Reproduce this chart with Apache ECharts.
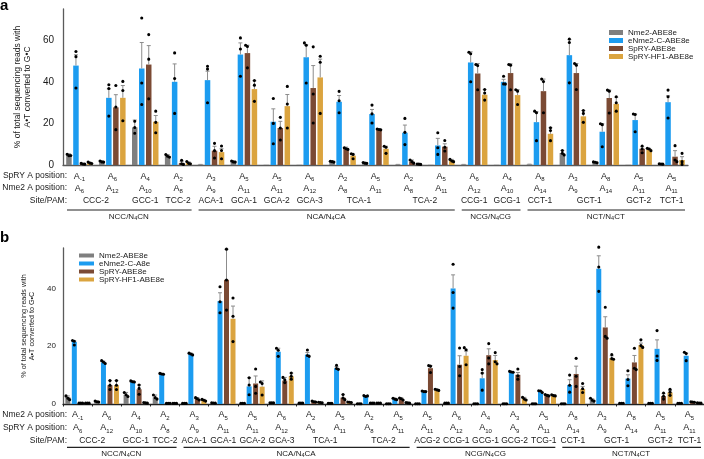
<!DOCTYPE html>
<html><head><meta charset="utf-8">
<script src="https://cdn.jsdelivr.net/npm/echarts@6/dist/echarts.min.js"></script>
<style>html,body{margin:0;padding:0;background:#fff}#c{width:704px;height:459px}</style>
</head><body><div id="c"></div>
<script>
// ---------------- DATA ----------------
const namesA = ['Nme2-ABE8e','eNme2-C-ABE8e','SpRY-ABE8e','SpRY-HF1-ABE8e'];
const namesB = ['Nme2-ABE8e','eNme2-C-A8e','SpRY-ABE8e','SpRY-HF1-ABE8e'];

// Panel a
const aRow1 = ['-1','6','4','2','3','5','5','6','2','5','2','5','6','4','8','3','8','5','5'];
const aRow2 = ['6','12','10','8','9','11','11','12','8','11','8','11','12','10','14','9','14','11','11'];
const aSite = ['CCC-2','CCC-2','GCC-1','TCC-2','ACA-1','GCA-1','GCA-2','GCA-3','TCA-1','TCA-1','TCA-2','TCA-2','CCG-1','GCG-1','CCT-1','GCT-1','GCT-1','GCT-2','TCT-1'];
const aPam = ['NCC/N4CN','NCC/N4CN','NCC/N4CN','NCC/N4CN','NCA/N4CA','NCA/N4CA','NCA/N4CA','NCA/N4CA','NCA/N4CA','NCA/N4CA','NCA/N4CA','NCA/N4CA','NCG/N4CG','NCG/N4CG','NCT/N4CT','NCT/N4CT','NCT/N4CT','NCT/N4CT','NCT/N4CT'];
const aRowTitles = ['SpRY A position:','Nme2 A position:','Site/PAM:'];
const aYTicks = [0,20,40,60];

const aNme2 = [4.8,1.6,18.1,4.3,0.2,1.6,0.1,0.1,1.6,1.0,0.2,0.1,0.2,0.1,0.3,5.8,1.3,0.1,0.5];
const aNme2Err = [5.4,1.9,21.6,5.0,0.3,1.9,0.1,0.1,1.9,1.2,0.3,0.1,0.3,0.1,0.4,7.0,1.5,0.1,0.6];
const aNme2Dots = [[5.2,4.5,4.6],[1.9,1.5,1.4],[21,18,15.3],[5,4.2,3.8],null,[1.9,1.5,1.4],null,null,[1.8,1.6,1.4],[1.2,0.9,0.8],null,null,null,null,null,[7,5.6,4.8],[1.5,1.3,1.1],null,[0.6,0.5,0.4]];

const aBlue = [47.8,32.3,46.4,40,40.8,53.1,20.8,51.8,30.4,24.5,15.5,9.4,49.3,40,20.6,52.8,16,21.6,30.2];
const aBlueErr = [53,36.6,58.9,48.6,45.1,58.7,27,57.8,33.4,26.7,19.2,12.8,54.4,41.2,25.6,60.3,19.8,24.5,33.3];
const aBlueDots = [[54.6,52.1,37],[38.6,36.8,23.5],[70.7,39.4,29.1],[53.9,41.6,24.8],[47.5,46.1,29.9],[61.1,55.8,42.7],[32,20,10.2],[58.7,57.6,39.4],[35.4,30.9,25.1],[28.8,24.6,20.2],[22.4,15.7,9.8],[15.5,8.3,5.1],[54.2,53.5,40],[42.7,39,38.9],[25.9,25.1,11.7],[60.6,58.9,39.5],[19.8,19.4,8.8],[24.5,24.3,16],[36,32.8,22.6]];

const aBrown = [0.6,27.7,48.3,1.0,6.9,53.8,17.8,37,8,17.1,1.6,8.8,44,44.2,35.5,44.2,32.2,7.8,4];
const aBrownErr = [0.8,33.8,57.4,1.8,9,57.6,21,47.8,8.6,17.4,2.4,10.2,48.8,48.6,41.3,48.8,36,8.8,6.9];
const aBrownDots = [[0.8,0.5,0.4],[38.2,27.9,17],[62.7,50.9,31.8],[2.3,0.6,0.3],[10.4,6.9,3.4],[57.6,57,46.7],[22.9,17.8,12],[56.8,34.1,20.2],[8.3,7.8,7.5],[17.3,17.1,16.9],[2.4,1.6,0.9],[11.8,8.5,6.7],[48.3,47.8,36.2],[48.3,48,36.2],[41.3,40.1,25.1],[48.8,48,36.3],[36,35.5,25],[9.1,7.7,5.9],[9.3,2.4,1.6]];

const aGold = [1.0,32.3,20.8,1.0,6.2,36.5,28.3,42.1,4.5,7.8,0.4,2.1,33.8,33.6,15,23.4,29.4,7.5,2.4];
const aGoldErr = [1.3,38.2,23.8,1.5,7.8,40.5,33.9,50.9,5.2,9,0.5,2.7,36.3,36.2,17.9,26.2,32.6,8,4];
const aGoldDots = [[1.4,0.9,0.7],[40.2,35.8,21.3],[25.9,20.5,15.5],[1.7,0.8,0.6],[9.1,7,3],[40.6,38.4,30.6],[37.8,29.3,17.8],[52.3,49.4,24.8],[5.4,5.1,3],[9,8.5,5.6],[0.5,0.4,0.3],[2.7,1.9,1.6],[36.3,34.6,31.2],[36.2,35.5,29.1],[17.9,16.6,11.7],[26.2,24.8,20.5],[32.8,29.9,25.9],[8,7.7,6.9],[5.6,1.6,0.3]];

// Panel b
const bRow1 = ['-1','6','4','2','3','5','5','6','2','5','2','5','5','6','4','3','5','8','3','8','5','5'];
const bRow2 = ['6','12','10','8','9','11','11','12','8','11','8','11','11','12','10','9','11','14','9','14','11','11'];
const bSite = ['CCC-2','CCC-2','GCC-1','TCC-2','ACA-1','GCA-1','GCA-2','GCA-3','TCA-1','TCA-1','TCA-2','TCA-2','ACG-2','CCG-1','GCG-1','GCG-2','TCG-1','CCT-1','GCT-1','GCT-1','GCT-2','TCT-1'];
const bPam = ['NCC/N4CN','NCC/N4CN','NCC/N4CN','NCC/N4CN','NCA/N4CA','NCA/N4CA','NCA/N4CA','NCA/N4CA','NCA/N4CA','NCA/N4CA','NCA/N4CA','NCA/N4CA','NCG/N4CG','NCG/N4CG','NCG/N4CG','NCG/N4CG','NCG/N4CG','NCT/N4CT','NCT/N4CT','NCT/N4CT','NCT/N4CT','NCT/N4CT'];
const bRowTitles = ['Nme2 A position:','SpRY A position:','Site/PAM:'];
const bYTicks = [0,20,40];

const bNme2 = [2.4,0.8,3.2,2.3,0.2,0.35,0.2,0.4,0.3,0.2,0.1,0.1,0.1,0.3,0.1,0.1,0.1,0.1,1.4,0.2,0.2,0.2];
const bNme2Err = [2.8,1.0,4.0,3.1,0.25,0.4,0.25,0.5,0.35,0.25,0.15,0.15,0.15,0.35,0.15,0.15,0.15,0.15,1.8,0.25,0.25,0.25];
const bNme2Dots = [[2.8,2,1.5],[1,0.8,0.7],[4,3.2,2.6],[3.1,2.2,1.7],[0.2,0.2,0.2],[0.4,0.35,0.3],[0.2,0.2,0.2],[0.4,0.4,0.4],[0.3,0.3,0.3],[0.2,0.2,0.2],[0.1,0.1,0.1],[0.1,0.1,0.1],[0.1,0.1,0.1],[0.3,0.3,0.3],[0.1,0.1,0.1],[0.1,0.1,0.1],[0.1,0.1,0.1],[0.1,0.1,0.1],[2,1.3,1],[0.2,0.2,0.2],[0.2,0.2,0.2],[0.2,0.2,0.2]];

const bBlue = [21.5,14.4,7.8,10.4,17.3,35.6,6.1,18.1,17.1,12.4,2.7,1.7,4.4,40,8.9,11.1,4.3,6.6,46.8,8.8,19.1,16.7];
const bBlueErr = [21.8,14.8,8.1,10.6,17.6,38.5,9.1,19.3,17.8,12.9,2.9,2.0,4.5,44.7,10.7,11.3,4.6,8.4,51.3,10.1,22.2,17.6];
const bBlueDots = [[22,21.7,20.4],[15,14.5,14],[8,7.7,7.6],[10.6,10.4,10.3],[17.6,17.3,17],[40.6,35.4,31.6],[9.1,6.6,3.2],[19.3,18.6,16.5],[18.7,16.8,16.5],[13.4,12.3,12],[2.9,2.6,2.8],[2,1.7,1.5],[4.5,4.3,4.3],[48.4,38.6,33.2],[11.9,10.7,4.8],[11.3,11.1,11],[4.6,4.5,4],[10,6.5,4.1],[54.3,47.4,39],[11.5,8.5,6.3],[25.4,16.6,15.1],[17.9,17.5,15]];

const bBrown = [0.3,6.5,5.1,0.2,1.8,43,7.1,8.1,0.8,2.2,0.3,1.8,12.4,13.6,16.9,10.1,3,10.4,26.5,14.4,2.7,0.7];
const bBrownErr = [0.35,8.1,6.6,0.25,2.2,53.6,9.7,9.2,1.0,3.3,0.35,2.1,13.3,16.7,19.1,10.9,3.3,13.1,30.2,16.8,3.6,0.8];
const bBrownDots = [[0.3,0.3,0.3],[8.1,6.5,5],[6.6,5.4,3.4],[0.2,0.2,0.2],[2.2,1.8,1.4],[53.6,42.9,32.5],[12.1,6.1,3.7],[9.2,8.4,7.4],[1,0.8,0.7],[3.3,2.1,1.5],[0.3,0.3,0.3],[2.1,1.8,1.4],[13.3,13.1,10.9],[19.4,13,9.8],[20.9,15.9,13.9],[12.1,9.8,8.6],[3.3,3,2.8],[15.8,9.6,6.1],[33.5,23.4,22.8],[19.3,12.4,11.9],[3.8,2.7,1.7],[0.8,0.7,0.6]];

const bGold = [0.3,6.5,0.4,0.2,1.3,29.5,6,9.6,0.5,0.6,0.3,0.4,5,16.7,15.2,1.8,3,5.2,15.9,20.4,4,0.35];
const bGoldErr = [0.35,8.1,0.5,0.25,1.6,33.9,8,10.7,0.6,0.7,0.35,0.5,5.1,18.3,16.8,2.3,3.2,6.1,16.7,21.1,4.7,0.4];
const bGoldDots = [[0.3,0.3,0.3],[8.1,6.5,5],[0.5,0.4,0.3],[0.2,0.2,0.2],[1.6,1.3,1],[36.7,30.4,21.6],[7.6,7.1,3.1],[10.7,9.6,8.6],[0.6,0.5,0.4],[0.7,0.6,0.5],[0.3,0.3,0.3],[0.5,0.4,0.3],[5.1,4.9,4.7],[19.5,18.8,13.6],[17.8,14.6,13.9],[2.3,1.7,1.4],[3.2,2.9,2.8],[7.1,5.3,4],[17.1,15.7,15.5],[22.2,20.2,19.6],[5.1,4.1,3],[0.4,0.35,0.3]];

const yTitle = '% of total sequencing reads with\nA\u2022T converted to G\u2022C';

// ---------------- CHART ----------------
const FONT = '"Liberation Sans", Arial, Helvetica, sans-serif';
const COLORS = ['#7f7f7f','#1c9cf0','#7b4a34','#dba43f'];
const TXT = '#1a1a1a';
const chart = echarts.init(document.getElementById('c'), null, {renderer: 'canvas'});

const panels = [
  {grid:{left:63, top:9, width:625, height:156}, yMax:75, bw:5.5, gap:1.5, names:namesA,
   row1:aRow1, row2:aRow2, site:aSite, pam:aPam, rowTitles:aRowTitles, yTicks:aYTicks,
   means:[aNme2,aBlue,aBrown,aGold], errs:[aNme2Err,aBlueErr,aBrownErr,aGoldErr], dots:[aNme2Dots,aBlueDots,aBrownDots,aGoldDots],
   lab:{margin:5, lh:12.3, fs:9, ss:6}, yFont:10, yMargin:9, titleFont:8.5, nameGap:28,
   rowY:[176,188,201], lineY:210, pamY:216.5, axisColor:'#5a5a5a', ticks:false},
  {grid:{left:63, top:248, width:641, height:156}, yMax:54, bw:5, gap:1.5, names:namesB,
   row1:bRow1, row2:bRow2, site:bSite, pam:bPam, rowTitles:bRowTitles, yTicks:bYTicks,
   means:[bNme2,bBlue,bBrown,bGold], errs:[bNme2Err,bBlueErr,bBrownErr,bGoldErr], dots:[bNme2Dots,bBlueDots,bBrownDots,bGoldDots],
   lab:{margin:3.5, lh:13.5, fs:9, ss:6}, yFont:8, yMargin:7, titleFont:7.2, nameGap:27,
   rowY:[414.5,428,440.7], lineY:447.3, pamY:453.5, axisColor:'#222', ticks:true}
];

function errRender(k, bw, gap) {
  return function (params, api) {
    const i = api.value(0), m = api.value(1), e = api.value(2);
    const base = api.coord([i, m]);
    const x = base[0] + (k - 1.5) * (bw + gap);
    const children = [];
    if (e > m + 0.05) {
      const t = api.coord([i, e])[1];
      children.push({type:'line', shape:{x1:x, y1:base[1], x2:x, y2:t}, style:{stroke:'#8c8c8c', lineWidth:1}});
      children.push({type:'line', shape:{x1:x-2, y1:t, x2:x+2, y2:t}, style:{stroke:'#8c8c8c', lineWidth:1}});
    }
    const ys = [];
    for (let j = 3; j < 6; j++) {
      const v = api.value(j);
      if (v == null || isNaN(v)) continue;
      ys.push(api.coord([i, v])[1]);
    }
    ys.forEach((y, j) => {
      let dx = 0;
      const close = ys.filter(o => Math.abs(o - y) < 2.6).length;
      if (close >= 2) dx = (j - 1) * 1.8;
      children.push({type:'circle', shape:{cx:x + dx, cy:y, r:1.55}, style:{fill:'#000'}});
    });
    return {type:'group', children};
  };
}

const option = {
  animation:false,
  textStyle:{fontFamily:FONT},
  grid: panels.map(p => p.grid),
  legend: [
    {data:namesA, orient:'vertical', left:604, top:23.5, itemWidth:14, itemHeight:5, itemGap:0, icon:'rect',
     textStyle:{fontSize:8, lineHeight:7.7, color:TXT, fontFamily:FONT}, selectedMode:false},
    {data:namesB, orient:'vertical', left:74, top:246.5, itemWidth:15, itemHeight:4, itemGap:0, icon:'rect',
     textStyle:{fontSize:8, lineHeight:5.7, color:TXT, fontFamily:FONT}, selectedMode:false}
  ],
  xAxis: panels.map((p, pi) => ({
    type:'category', gridIndex:pi, data:p.site.map((s, i) => s + ' ' + p.row1[i] + '/' + p.row2[i]),
    axisLine:{lineStyle:{color:p.axisColor, width:1.3}},
    axisTick:{show:p.ticks, length:2.5, lineStyle:{color:'#222'}},
    axisLabel:{interval:0, margin:p.lab.margin, color:TXT,
      formatter:(v, i) => `{a|A}{s|${p.row1[i]}}\n{a|A}{s|${p.row2[i]}}`,
      rich:{a:{fontSize:p.lab.fs, lineHeight:p.lab.lh, color:TXT, fontFamily:FONT},
            s:{fontSize:p.lab.ss, lineHeight:p.lab.lh, color:TXT, verticalAlign:'bottom', fontFamily:FONT}}}
  })),
  yAxis: panels.map((p, pi) => ({
    type:'value', gridIndex:pi, min:0, max:p.yMax, interval:20,
    splitLine:{show:false}, axisTick:{show:false},
    axisLine:{show:true, lineStyle:{color:'#5a5a5a', width:1.3}},
    axisLabel:{fontSize:p.yFont, margin:p.yMargin, color:TXT, showMaxLabel:false,
      formatter:v => (p.yTicks.indexOf(v) >= 0 ? String(v) : '')},
    name:yTitle, nameLocation:'middle', nameRotate:90, nameGap:p.nameGap,
    nameTextStyle:{fontSize:p.titleFont, lineHeight:p.titleFont + 1, color:TXT, fontFamily:FONT}
  })),
  series: []
};

panels.forEach((p, pi) => {
  for (let k = 0; k < 4; k++) {
    option.series.push({
      type:'bar', name:p.names[k], xAxisIndex:pi, yAxisIndex:pi, data:p.means[k],
      barWidth:p.bw, barGap:(p.gap / p.bw * 100) + '%', itemStyle:{color:COLORS[k]}, z:2
    });
  }
  for (let k = 0; k < 4; k++) {
    option.series.push({
      type:'custom', name:'err' + pi + k, xAxisIndex:pi, yAxisIndex:pi, z:5,
      renderItem:errRender(k, p.bw, p.gap),
      encode:{x:0, y:1},
      data:p.means[k].map((m, i) => {
        const d = p.dots[k][i] || [null, null, null];
        return [i, m, p.errs[k][i], d[0], d[1], d[2]];
      })
    });
  }
});

chart.setOption(option);

// ---------- annotations placed through the axes ----------
const graphics = [];
function txt(x, y, text, size, align, extra) {
  return Object.assign({type:'text', x:x, y:y, silent:true, style:Object.assign({
    text:text, fill:TXT, fontSize:size, fontFamily:FONT,
    align:align, textAlign:align, verticalAlign:'middle', textVerticalAlign:'middle'}, extra || {})}, {});
}
function groupsOf(arr) {
  const out = [];
  arr.forEach((v, i) => {
    if (out.length && out[out.length - 1].v === v) out[out.length - 1].e = i;
    else out.push({v:v, s:i, e:i});
  });
  return out;
}
panels.forEach((p, pi) => {
  const X = i => chart.convertToPixel({xAxisIndex:pi}, i);
  const band = X(1) - X(0);
  p.rowTitles.forEach((t, r) => graphics.push(txt(67, p.rowY[r], t, 8.5, 'right')));
  groupsOf(p.site).forEach(g => {
    graphics.push(txt((X(g.s) + X(g.e)) / 2, p.rowY[2], g.v, 8.5, 'center'));
  });
  groupsOf(p.pam).forEach(g => {
    const x1 = X(g.s) - band / 2 + 4, x2 = X(g.e) + band / 2 - 3;
    graphics.push({type:'line', silent:true, shape:{x1:x1, y1:p.lineY, x2:x2, y2:p.lineY}, style:{stroke:'#222', lineWidth:1.2}});
    graphics.push(txt((X(g.s) + X(g.e)) / 2, p.pamY, g.v.replace('N4', 'N{s|4}'), 8, 'center',
      {rich:{s:{fontSize:5.5, verticalAlign:'bottom', lineHeight:10, fill:TXT, fontFamily:FONT}}, lineHeight:10}));
  });
});
graphics.push(txt(0, 6, 'a', 15, 'left', {fontWeight:'bold', fill:'#000'}));
graphics.push(txt(0, 238, 'b', 15, 'left', {fontWeight:'bold', fill:'#000'}));
chart.setOption({graphic:graphics});
</script>
</body></html>
